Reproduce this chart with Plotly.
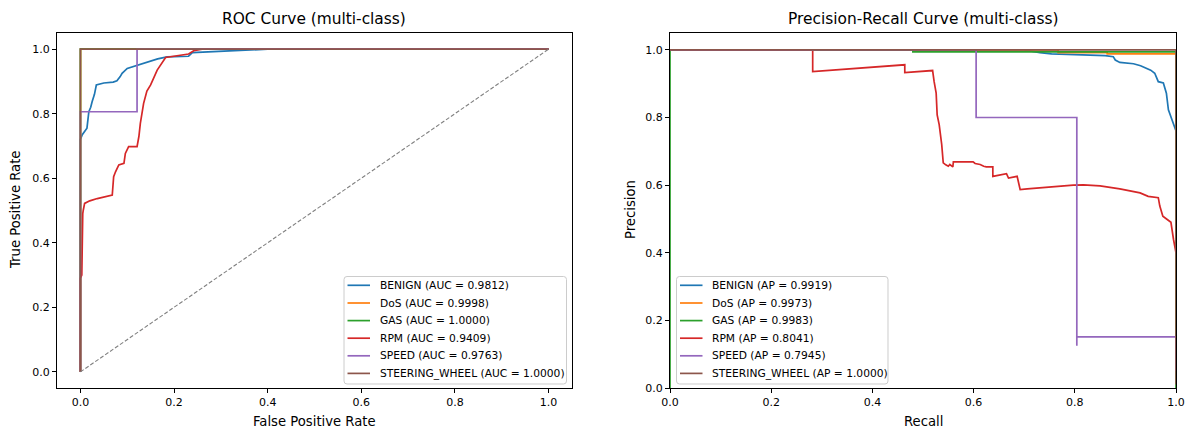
import plotly.graph_objects as go

classes = ["BENIGN", "DoS", "GAS", "RPM", "SPEED", "STEERING_WHEEL"]
colors = ["#1f77b4", "#ff7f0e", "#2ca02c", "#d62728", "#9467bd", "#8c564b"]
roc_auc = [0.9812, 0.9998, 1.0000, 0.9409, 0.9763, 1.0000]
pr_ap = [0.9919, 0.9973, 0.9983, 0.8041, 0.7945, 1.0000]

# ROC curves
benign_fpr = [0, 0, 0.004, 0.010, 0.014, 0.018, 0.022, 0.025, 0.030, 0.034, 0.050, 0.070, 0.078, 0.085, 0.089, 0.100, 0.121, 0.142, 0.165, 0.185, 0.231, 0.239, 0.300, 0.356, 0.400, 1.0]
benign_tpr = [0, 0.72, 0.735, 0.745, 0.755, 0.806, 0.820, 0.837, 0.860, 0.889, 0.895, 0.898, 0.902, 0.915, 0.925, 0.940, 0.950, 0.961, 0.970, 0.976, 0.978, 0.989, 0.993, 0.995, 1.0, 1.0]
dos_fpr = [0, 0, 0.0004, 1.0]
dos_tpr = [0, 0.995, 1.0, 1.0]
gas_fpr = [0, 0, 1.0]
gas_tpr = [0, 1.0, 1.0]
rpm_fpr = [0, 0, 0.003, 0.004, 0.005, 0.006, 0.009, 0.020, 0.036, 0.068, 0.071, 0.075, 0.082, 0.093, 0.096, 0.103, 0.121, 0.125, 0.128, 0.135, 0.142, 0.150, 0.164, 0.182, 0.231, 0.242, 0.260, 1.0]
rpm_tpr = [0, 0.29, 0.30, 0.47, 0.49, 0.50, 0.522, 0.530, 0.537, 0.548, 0.605, 0.620, 0.641, 0.646, 0.677, 0.698, 0.698, 0.730, 0.770, 0.832, 0.870, 0.889, 0.935, 0.974, 0.985, 0.995, 1.0, 1.0]
speed_fpr = [0, 0, 0.121, 0.121, 1.0]
speed_tpr = [0, 0.806, 0.806, 1.0, 1.0]
steer_fpr = [0, 0, 1.0]
steer_tpr = [0, 1.0, 1.0]

# Precision-Recall curves
benign_rec = [0, 0.700, 0.731, 0.754, 0.800, 0.830, 0.860, 0.876, 0.880, 0.889, 0.916, 0.930, 0.942, 0.950, 0.958, 0.962, 0.965, 0.975, 0.978, 0.981, 0.985, 0.990, 0.995, 1.0, 1.0]
benign_prec = [1.0, 1.0, 0.992, 0.988, 0.986, 0.985, 0.983, 0.980, 0.970, 0.963, 0.959, 0.953, 0.946, 0.940, 0.931, 0.915, 0.906, 0.902, 0.890, 0.872, 0.823, 0.800, 0.780, 0.760, 0.40]
dos_rec = [0, 0.767, 0.767, 0.864, 0.864, 1.0, 1.0]
dos_prec = [1.0, 1.0, 0.992, 0.992, 0.988, 0.988, 0.10]
gas_rec = [0, 0, 0.480, 0.480, 1.0, 1.0]
gas_prec = [0.0, 1.0, 1.0, 0.994, 0.994, 0.0]
rpm_rec = [0, 0.282, 0.282, 0.464, 0.464, 0.519, 0.522, 0.526, 0.528, 0.532, 0.537, 0.540, 0.545, 0.550, 0.553, 0.559, 0.560, 0.599, 0.603, 0.613, 0.620, 0.625, 0.638, 0.638, 0.665, 0.669, 0.686, 0.692, 0.706, 0.750, 0.797, 0.817, 0.850, 0.889, 0.929, 0.945, 0.965, 0.968, 0.974, 0.982, 0.990, 0.995, 1.0]
rpm_prec = [1.0, 1.0, 0.936, 0.956, 0.933, 0.939, 0.906, 0.872, 0.808, 0.779, 0.720, 0.666, 0.660, 0.656, 0.661, 0.654, 0.669, 0.669, 0.664, 0.661, 0.656, 0.654, 0.654, 0.626, 0.634, 0.621, 0.626, 0.587, 0.589, 0.595, 0.600, 0.601, 0.598, 0.589, 0.577, 0.567, 0.563, 0.538, 0.508, 0.499, 0.490, 0.440, 0.400]
speed_rec = [0, 0.605, 0.605, 0.804, 0.804, 0.804, 1.0, 1.0]
speed_prec = [1.0, 1.0, 0.800, 0.800, 0.125, 0.151, 0.151, 0.05]
steer_rec = [0, 1.0, 1.0]
steer_prec = [1.0, 1.0, 0.01]

tick_vals = [0, 0.2, 0.4, 0.6, 0.8, 1.0]
tick_text = ["0.0", "0.2", "0.4", "0.6", "0.8", "1.0"]

roc_x = [benign_fpr, dos_fpr, gas_fpr, rpm_fpr, speed_fpr, steer_fpr]
roc_y = [benign_tpr, dos_tpr, gas_tpr, rpm_tpr, speed_tpr, steer_tpr]
pr_x = [benign_rec, dos_rec, gas_rec, rpm_rec, speed_rec, steer_rec]
pr_y = [benign_prec, dos_prec, gas_prec, rpm_prec, speed_prec, steer_prec]

FONT = "DejaVu Sans"
W, H = 1192, 431
LW = 1.7

def px_x(p):
    return p / W

def px_y(p):
    return 1 - p / H

fig = go.Figure()

for i, c in enumerate(classes):
    fig.add_trace(go.Scatter(
        x=roc_x[i], y=roc_y[i], mode="lines",
        line=dict(color=colors[i], width=LW),
        name=f"{c} (AUC = {roc_auc[i]:.4f})",
        xaxis="x", yaxis="y", showlegend=False))
fig.add_trace(go.Scatter(
    x=[0, 1], y=[0, 1], mode="lines",
    line=dict(color="gray", width=1.1, dash="4px,2px"),
    showlegend=False, xaxis="x", yaxis="y"))

for i, c in enumerate(classes):
    fig.add_trace(go.Scatter(
        x=pr_x[i], y=pr_y[i], mode="lines",
        line=dict(color=colors[i], width=LW),
        name=f"{c} (AP = {pr_ap[i]:.4f})",
        xaxis="x2", yaxis="y2", showlegend=False))

ydom = [px_y(388), px_y(33)]
axis_common = dict(
    showline=True, linecolor="black", linewidth=1, mirror=True,
    ticks="outside", ticklen=4, tickcolor="black", tickwidth=1,
    showgrid=False, zeroline=False,
    tickvals=tick_vals, ticktext=tick_text,
    tickfont=dict(family=FONT, size=11, color="black"),
    automargin=False,
)

fig.update_layout(
    width=W, height=H, autosize=False,
    margin=dict(l=0, r=0, t=0, b=0, pad=0, autoexpand=False),
    paper_bgcolor="white", plot_bgcolor="white",
    font=dict(family=FONT, color="black"),
    xaxis=dict(domain=[px_x(57), px_x(572)], range=[-0.05, 1.05], anchor="y", **axis_common),
    yaxis=dict(domain=ydom, range=[-0.05, 1.05], anchor="x", **axis_common),
    xaxis2=dict(domain=[px_x(670), px_x(1176)], range=[0, 1], anchor="y2", **axis_common),
    yaxis2=dict(domain=ydom, range=[0, 1.05], anchor="x2", **axis_common),
    showlegend=False,
)

# Titles and axis labels
for text, x, y, size in [
    ("ROC Curve (multi-class)", 314, 19, 15.4),
    ("Precision-Recall Curve (multi-class)", 923, 19, 15.4),
    ("False Positive Rate", 314, 421, 13.2),
    ("Recall", 923, 421, 13.2),
]:
    fig.add_annotation(text=text, x=px_x(x), y=px_y(y), xref="paper", yref="paper",
                       xanchor="center", yanchor="middle", showarrow=False,
                       font=dict(family=FONT, size=size, color="black"))
for text, x in [("True Positive Rate", 15), ("Precision", 630)]:
    fig.add_annotation(text=text, x=px_x(x), y=px_y(210), xref="paper", yref="paper",
                       xanchor="center", yanchor="middle", showarrow=False, textangle=-90,
                       font=dict(family=FONT, size=13.2, color="black"))

# Legends drawn in matplotlib style
def rounded_box(x0, y0, x1, y1, r=3):
    # pixel coords (y down) -> paper path
    def P(x, y):
        return f"{px_x(x):.6f},{px_y(y):.6f}"
    return (f"M {P(x0 + r, y0)} L {P(x1 - r, y0)} Q {P(x1, y0)} {P(x1, y0 + r)} "
            f"L {P(x1, y1 - r)} Q {P(x1, y1)} {P(x1 - r, y1)} "
            f"L {P(x0 + r, y1)} Q {P(x0, y1)} {P(x0, y1 - r)} "
            f"L {P(x0, y0 + r)} Q {P(x0, y0)} {P(x0 + r, y0)} Z")

row_y = [285.3, 303.0, 320.6, 338.2, 355.8, 373.4]

def draw_legend(box, line_x0, line_x1, text_x, labels):
    fig.add_shape(type="path", path=rounded_box(*box), xref="paper", yref="paper",
                  fillcolor="rgba(255,255,255,0.8)", line=dict(color="#cccccc", width=1),
                  layer="above")
    for i, lab in enumerate(labels):
        fig.add_shape(type="line", xref="paper", yref="paper",
                      x0=px_x(line_x0), x1=px_x(line_x1), y0=px_y(row_y[i]), y1=px_y(row_y[i]),
                      line=dict(color=colors[i], width=LW), layer="above")
        fig.add_annotation(text=lab, x=px_x(text_x), y=px_y(row_y[i]), xref="paper", yref="paper",
                           xanchor="left", yanchor="middle", showarrow=False,
                           font=dict(family=FONT, size=10.7, color="black"))

draw_legend((344, 276.5, 566.5, 384), 347.5, 370, 377.5,
            [f"{c} (AUC = {roc_auc[i]:.4f})" for i, c in enumerate(classes)])
draw_legend((676.5, 276.5, 888, 384), 680, 702.5, 710,
            [f"{c} (AP = {pr_ap[i]:.4f})" for i, c in enumerate(classes)])

fig.write_html("out.html")
